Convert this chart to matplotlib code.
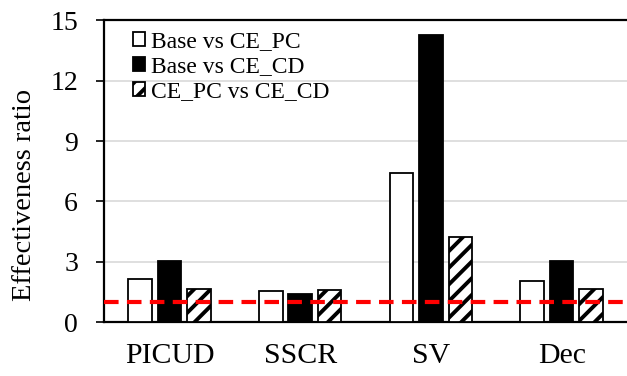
import numpy as np
import matplotlib
matplotlib.use("Agg")
import matplotlib.pyplot as plt

categories = ["PICUD", "SSCR", "SV", "Dec"]
series_names = ["Base vs CE_PC", "Base vs CE_CD", "CE_PC vs CE_CD"]
base_pc = [2.14, 1.55, 7.42, 2.04]
base_cd = [3.05, 1.39, 14.29, 3.03]
pc_cd = [1.67, 1.60, 4.22, 1.67]
y_ticks = [0, 3, 6, 9, 12, 15]

plt.rcParams["font.family"] = ["Liberation Serif", "DejaVu Serif"]
plt.rcParams["hatch.linewidth"] = 2.8

fig = plt.figure(figsize=(6.27, 3.76), dpi=100)
ax = fig.add_axes([0.166, 0.143, 0.834, 0.803])

x = np.arange(len(categories))
w = 0.18
step = 0.225
ax.bar(x - step, base_pc, w, color="white", edgecolor="black", linewidth=1.3,
       label=series_names[0], zorder=3)
ax.bar(x, base_cd, w, color="black", edgecolor="black", linewidth=1.3,
       label=series_names[1], zorder=3)
ax.bar(x + step, pc_cd, w, color="white", edgecolor="black", linewidth=1.3,
       hatch="//", label=series_names[2], zorder=3)

ax.axhline(1, color="red", linestyle=(0, (3.5, 2)), linewidth=3, zorder=4)

ax.set_xlim(-0.5, 3.5)
ax.set_ylim(0, 15)
ax.set_yticks(y_ticks)
ax.set_xticks(x)
ax.set_xticklabels(categories)
ax.tick_params(axis="x", length=0, pad=15, labelsize=21.5)
ax.tick_params(axis="y", length=5.8, width=1.2, direction="out", labelsize=20, pad=13)
ax.yaxis.grid(True, color="#d9d9d9", linewidth=1.2, zorder=0)
ax.set_axisbelow(True)
ax.set_ylabel("Effectiveness ratio", fontsize=20.5)
ax.yaxis.set_label_coords(-0.128, 0.42)

for s in ["left", "bottom", "top"]:
    ax.spines[s].set_color("black")
    ax.spines[s].set_linewidth(1.6)
ax.spines["right"].set_visible(False)

ax.legend(loc="upper left", bbox_to_anchor=(0.028, 1.01), frameon=False,
          fontsize=17, handlelength=0.5, handleheight=0.5, handletextpad=0.25,
          labelspacing=0.17, borderaxespad=0.2)

fig.savefig("out.png", dpi=100)
